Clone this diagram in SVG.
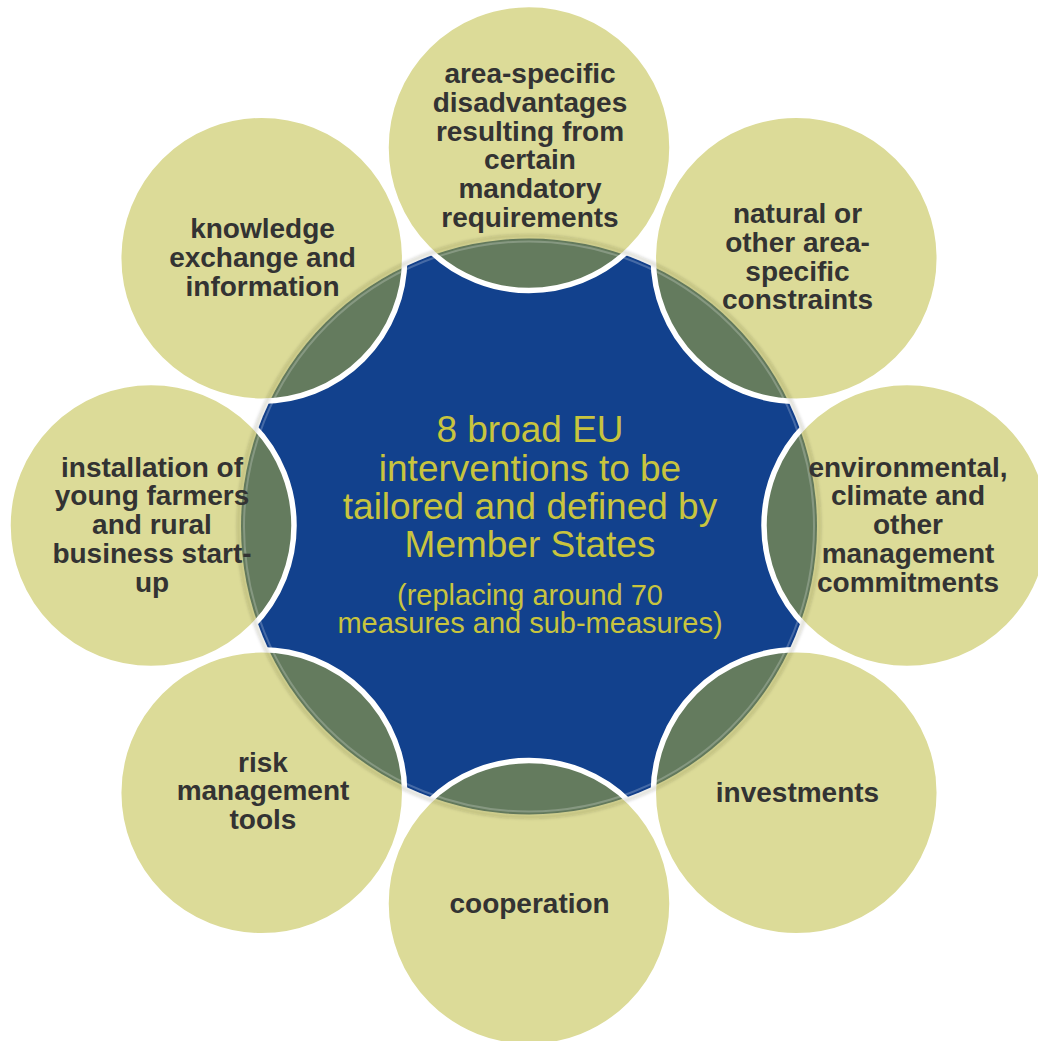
<svg xmlns="http://www.w3.org/2000/svg" width="1038" height="1041" viewBox="0 0 1038 1041">
  <defs>
    <style>
      .sat { fill: #DCDB98; }
      .ovl { fill: #647B5E; }
      .ring { fill: none; stroke: #FFFFFF; stroke-width: 5.5; }
      .lbl { font-family: "Liberation Sans", Arial, sans-serif; font-weight: bold; font-size: 28px; fill: #333333; text-anchor: middle; }
      .ctitle { font-family: "Liberation Sans", Arial, sans-serif; font-size: 37px; fill: #C8C43E; text-anchor: middle; }
      .csub { font-family: "Liberation Sans", Arial, sans-serif; font-size: 29px; fill: #C8C43E; text-anchor: middle; }
    </style>
    <clipPath id="centerClip">
      <circle cx="529" cy="526.5" r="288"/>
    </clipPath>
    <filter id="soft" x="-10%" y="-10%" width="120%" height="120%">
      <feGaussianBlur stdDeviation="1.6"/>
    </filter>
  </defs>
  <rect width="1038" height="1041" fill="#FFFFFF"/>

  <g id="node-center">
    <circle cx="529" cy="526.5" r="288" fill="#12418D"/>
  </g>

  <g id="node-area-specific">
    <circle class="sat" cx="529" cy="147.5" r="143"/>
    <circle class="ovl" cx="529" cy="147.5" r="143" clip-path="url(#centerClip)"/>
    <circle class="ring" cx="529" cy="147.5" r="143"/>
  </g>
  <g id="node-natural">
    <circle class="sat" cx="796.3" cy="258.2" r="143"/>
    <circle class="ovl" cx="796.3" cy="258.2" r="143" clip-path="url(#centerClip)"/>
    <circle class="ring" cx="796.3" cy="258.2" r="143"/>
  </g>
  <g id="node-environmental">
    <circle class="sat" cx="907" cy="525.5" r="143"/>
    <circle class="ovl" cx="907" cy="525.5" r="143" clip-path="url(#centerClip)"/>
    <circle class="ring" cx="907" cy="525.5" r="143"/>
  </g>
  <g id="node-investments">
    <circle class="sat" cx="796.3" cy="792.8" r="143"/>
    <circle class="ovl" cx="796.3" cy="792.8" r="143" clip-path="url(#centerClip)"/>
    <circle class="ring" cx="796.3" cy="792.8" r="143"/>
  </g>
  <g id="node-cooperation">
    <circle class="sat" cx="529" cy="903.5" r="143"/>
    <circle class="ovl" cx="529" cy="903.5" r="143" clip-path="url(#centerClip)"/>
    <circle class="ring" cx="529" cy="903.5" r="143"/>
  </g>
  <g id="node-risk">
    <circle class="sat" cx="261.7" cy="792.8" r="143"/>
    <circle class="ovl" cx="261.7" cy="792.8" r="143" clip-path="url(#centerClip)"/>
    <circle class="ring" cx="261.7" cy="792.8" r="143"/>
  </g>
  <g id="node-installation">
    <circle class="sat" cx="151" cy="525.5" r="143"/>
    <circle class="ovl" cx="151" cy="525.5" r="143" clip-path="url(#centerClip)"/>
    <circle class="ring" cx="151" cy="525.5" r="143"/>
  </g>
  <g id="node-knowledge">
    <circle class="sat" cx="261.7" cy="258.2" r="143"/>
    <circle class="ovl" cx="261.7" cy="258.2" r="143" clip-path="url(#centerClip)"/>
    <circle class="ring" cx="261.7" cy="258.2" r="143"/>
  </g>

  <g id="center-edge">
    <circle cx="529" cy="526.5" r="290.5" fill="none" stroke="#2A2A14" stroke-opacity="0.16" stroke-width="3.5" filter="url(#soft)"/>
    <circle cx="529" cy="526.5" r="285" fill="none" stroke="#FFFFFF" stroke-opacity="0.22" stroke-width="2"/>
  </g>

  <g id="connectors"></g>

  <g id="labels">
    <text class="ctitle" x="530" y="441.7">8 broad EU</text>
    <text class="ctitle" x="530" y="481">interventions to be</text>
    <text class="ctitle" x="530" y="519">tailored and defined by</text>
    <text class="ctitle" x="530" y="557">Member States</text>
    <text class="csub" x="530" y="604.5">(replacing around 70</text>
    <text class="csub" x="530" y="632.5">measures and sub-measures)</text>

    <text class="lbl" x="530" y="83.3">area-specific</text>
    <text class="lbl" x="530" y="112">disadvantages</text>
    <text class="lbl" x="530" y="140.7">resulting from</text>
    <text class="lbl" x="530" y="169.4">certain</text>
    <text class="lbl" x="530" y="198.1">mandatory</text>
    <text class="lbl" x="530" y="226.8">requirements</text>

    <text class="lbl" x="797.5" y="223.3">natural or</text>
    <text class="lbl" x="797.5" y="252">other area-</text>
    <text class="lbl" x="797.5" y="280.7">specific</text>
    <text class="lbl" x="797.5" y="309.4">constraints</text>

    <text class="lbl" x="908" y="476.7">environmental,</text>
    <text class="lbl" x="908" y="505.4">climate and</text>
    <text class="lbl" x="908" y="534.1">other</text>
    <text class="lbl" x="908" y="562.8">management</text>
    <text class="lbl" x="908" y="591.5">commitments</text>

    <text class="lbl" x="797.5" y="801.7">investments</text>

    <text class="lbl" x="529.6" y="912.7">cooperation</text>

    <text class="lbl" x="263" y="771.7">risk</text>
    <text class="lbl" x="263" y="800.4">management</text>
    <text class="lbl" x="263" y="829.1">tools</text>

    <text class="lbl" x="152" y="476.7">installation of</text>
    <text class="lbl" x="152" y="505.4">young farmers</text>
    <text class="lbl" x="152" y="534.1">and rural</text>
    <text class="lbl" x="152" y="562.8">business start-</text>
    <text class="lbl" x="152" y="591.5">up</text>

    <text class="lbl" x="262.5" y="238.3">knowledge</text>
    <text class="lbl" x="262.5" y="267">exchange and</text>
    <text class="lbl" x="262.5" y="295.7">information</text>
  </g>
</svg>
